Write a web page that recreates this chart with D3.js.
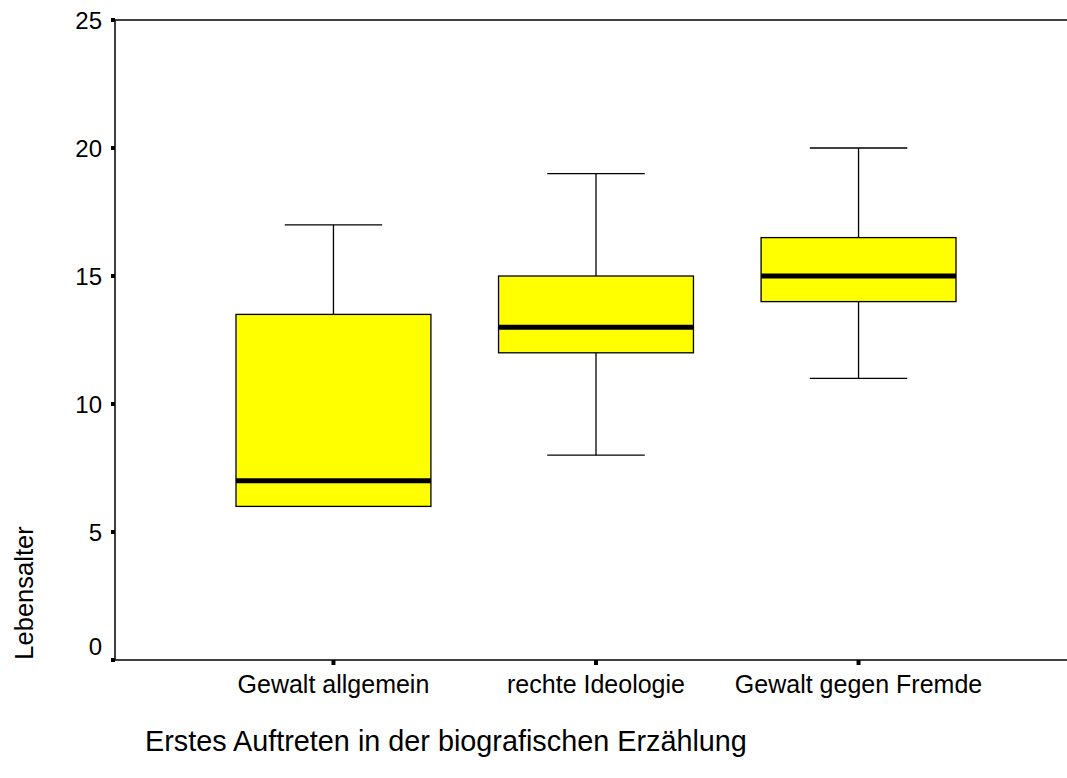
<!DOCTYPE html>
<html>
<head>
<meta charset="utf-8">
<script src="https://cdn.jsdelivr.net/npm/d3@7"></script>
<style>
  body { margin: 0; background: #fff; }
  text { font-family: "Liberation Sans", Arial, sans-serif; fill: #000; }
</style>
</head>
<body>
<svg id="chart" width="1067" height="778"></svg>
<script>
// categories and box statistics
const categories = ["Gewalt allgemein", "rechte Ideologie", "Gewalt gegen Fremde"];
const whiskerLow = [6, 8, 11];
const q1 = [6, 12, 14];
const median = [7, 13, 15];
const q3 = [13.5, 15, 16.5];
const whiskerHigh = [17, 19, 20];
const yTicks = [0, 5, 10, 15, 20, 25];

const svg = d3.select('#chart');
const plotLeft = 115, plotRight = 1067, plotTop = 20, plotBottom = 660;

const y = d3.scaleLinear().domain([0, 25]).range([plotBottom, plotTop]);
const x = d3.scaleBand().domain(categories).range([235, 957]).paddingInner(0.25).paddingOuter(0);

const boxes = categories.map((c, i) => ({
  cat: c, lo: whiskerLow[i], q1: q1[i], med: median[i], q3: q3[i], hi: whiskerHigh[i]
}));

// frame lines: top, bottom, left
svg.append('line').attr('x1', plotLeft).attr('x2', plotRight).attr('y1', plotTop).attr('y2', plotTop)
  .attr('stroke', '#000').attr('stroke-width', 1.5);
svg.append('line').attr('x1', plotLeft).attr('x2', plotRight).attr('y1', plotBottom).attr('y2', plotBottom)
  .attr('stroke', '#000').attr('stroke-width', 1.5);
svg.append('line').attr('x1', plotLeft).attr('x2', plotLeft).attr('y1', plotTop).attr('y2', plotBottom)
  .attr('stroke', '#000').attr('stroke-width', 1.5);

// y ticks (the 0 label sits above its tick)
const yg = svg.append('g');
yTicks.forEach(t => {
  yg.append('rect').attr('x', plotLeft - 4).attr('y', y(t) - 2).attr('width', 4).attr('height', 4).attr('fill', '#000');
  yg.append('text').attr('x', 102).attr('y', y(t) + (t === 0 ? -5 : 8.5)).attr('text-anchor', 'end')
    .attr('font-size', 24).text(t);
});

// boxes
const bw = x.bandwidth() - 2;
const g = svg.append('g');
boxes.forEach(d => {
  const cx = x(d.cat) + x.bandwidth() / 2;
  // whiskers
  if (d.hi > d.q3) {
    g.append('line').attr('x1', cx).attr('x2', cx).attr('y1', y(d.q3)).attr('y2', y(d.hi)).attr('stroke', '#000').attr('stroke-width', 1.3);
    g.append('line').attr('x1', cx - bw / 4).attr('x2', cx + bw / 4).attr('y1', y(d.hi)).attr('y2', y(d.hi)).attr('stroke', '#000').attr('stroke-width', 1.3);
  }
  if (d.lo < d.q1) {
    g.append('line').attr('x1', cx).attr('x2', cx).attr('y1', y(d.q1)).attr('y2', y(d.lo)).attr('stroke', '#000').attr('stroke-width', 1.3);
    g.append('line').attr('x1', cx - bw / 4).attr('x2', cx + bw / 4).attr('y1', y(d.lo)).attr('y2', y(d.lo)).attr('stroke', '#000').attr('stroke-width', 1.3);
  }
  g.append('rect').attr('x', cx - bw / 2).attr('y', y(d.q3)).attr('width', bw).attr('height', y(d.q1) - y(d.q3))
    .attr('fill', '#ffff00').attr('stroke', '#000').attr('stroke-width', 1.3);
  g.append('line').attr('x1', cx - bw / 2).attr('x2', cx + bw / 2).attr('y1', y(d.med)).attr('y2', y(d.med))
    .attr('stroke', '#000').attr('stroke-width', 5);

  // x tick + label
  svg.append('rect').attr('x', cx - 2).attr('y', plotBottom).attr('width', 4).attr('height', 5).attr('fill', '#000');
  svg.append('text').attr('x', cx).attr('y', 693).attr('text-anchor', 'middle').attr('font-size', 25).text(d.cat);
});

// axis titles
svg.append('text').attr('transform', 'translate(33,593) rotate(-90)').attr('text-anchor', 'middle')
  .attr('font-size', 25.5).text('Lebensalter');
svg.append('text').attr('x', 145).attr('y', 751).attr('font-size', 28.8)
  .text('Erstes Auftreten in der biografischen Erzählung');
</script>
</body>
</html>
